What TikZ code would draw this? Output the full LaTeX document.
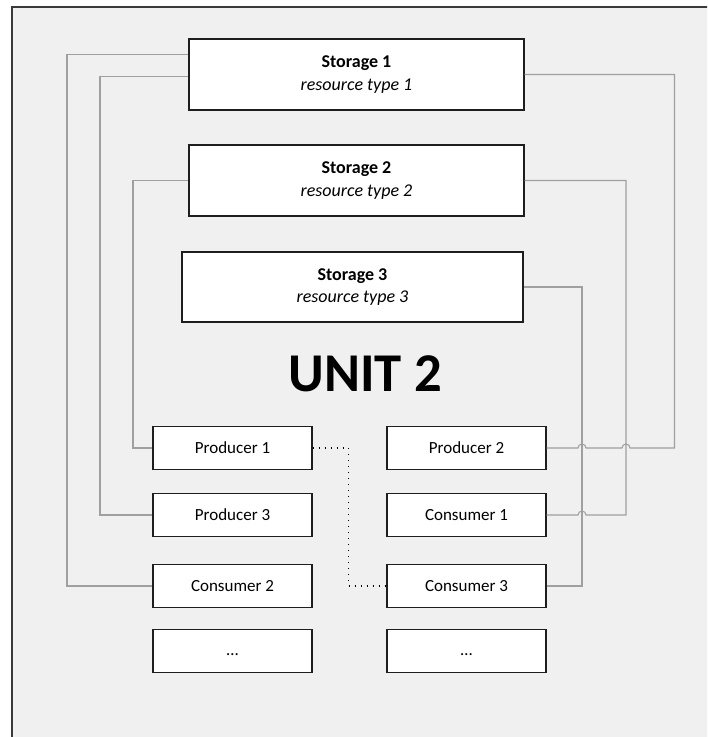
\documentclass[tikz,border=0pt]{standalone}
\usepackage{fontspec}
\setmainfont{Carlito}
\usetikzlibrary{calc}
\definecolor{bg}{HTML}{F0F0F0}
\definecolor{conn}{HTML}{A0A0A0}
\definecolor{frame}{HTML}{3A3A3A}
\definecolor{boxline}{HTML}{1E1E1E}
\tikzset{
  storebox/.style={draw=boxline, line width=0.9pt, fill=white, minimum height=53.25pt, align=center, inner sep=0pt, font=\fontsize{13.5}{17}\selectfont},
  unitbox/.style={draw=boxline, line width=0.9pt, fill=white, minimum width=119.25pt, minimum height=31.75pt, inner sep=0pt, font=\fontsize{12.75}{15}\selectfont},
  connline/.style={draw=conn, line width=0.8pt},
  dotline/.style={draw=black, line width=1pt, dash pattern=on 1pt off 3.5pt}
}
\begin{document}
\begin{tikzpicture}[x=0.75pt,y=-0.75pt]
\useasboundingbox (0,0) rectangle (707,737);
\clip (0,0) rectangle (707,737);
\draw[fill=bg, draw=frame, line width=0.9pt] (12,7) rectangle (730,760);

% storages
\node[storebox, minimum width=251.25pt] (s1) at (356.5,74.5) {\textbf{Storage 1}\\\textit{resource type 1}};
\node[storebox, minimum width=251.25pt] (s2) at (356.5,180.5) {\textbf{Storage 2}\\\textit{resource type 2}};
\node[storebox, minimum width=255.75pt, minimum height=52.5pt] (s3) at (352.5,287) {\textbf{Storage 3}\\\textit{resource type 3}};

\node[font=\fontsize{41}{49}\selectfont\bfseries, inner sep=0pt] (unit) at (365,374) {UNIT 2};

% units
\node[unitbox] (p1) at (232.5,448) {Producer 1};
\node[unitbox] (p3) at (232.5,515) {Producer 3};
\node[unitbox] (c2) at (232.5,586) {Consumer 2};
\node[unitbox] (l4) at (232.5,651) {\vphantom{Pp}…};
\node[unitbox] (p2) at (466.5,448) {Producer 2};
\node[unitbox] (c1) at (466.5,515) {Consumer 1};
\node[unitbox] (c3) at (466.5,586) {Consumer 3};
\node[unitbox] (r4) at (466.5,651) {\vphantom{Pp}…};

% columns
\coordinate (L1) at (67,0);
\coordinate (L2) at (100,0);
\coordinate (L3) at (133,0);
\coordinate (R1) at (582,0);
\coordinate (R2) at (626,0);
\coordinate (R3) at (674.5,0);
\coordinate (D) at (348.5,0);
\coordinate (s1a) at ($(s1.north west)+(0,16)$);
\coordinate (s1b) at ($(s1.north west)+(0,38)$);

% left connectors
\draw[connline] (s1a) -- (L1 |- s1a) -- (L1 |- c2.west) -- (c2.west);
\draw[connline] (s1b) -- (L2 |- s1b) -- (L2 |- p3.west) -- (p3.west);
\draw[connline] (s2.west) -- (L3 |- s2.west) -- (L3 |- p1.west) -- (p1.west);

% right connectors
\draw[connline] (s3.east) -- (R1 |- s3.east) -- (R1 |- c3.east) -- (c3.east);
\draw[connline] (s2.east) -- (R2 |- s2.east) -- (R2 |- c1.east)
  -- ($(R1 |- c1.east)+(4,0)$) arc[start angle=0,end angle=180,radius=3pt]
  -- (c1.east);
\draw[connline] (s1.east) -- (R3 |- s1.east) -- (R3 |- p2.east)
  -- ($(R2 |- p2.east)+(4,0)$) arc[start angle=0,end angle=180,radius=3pt]
  -- ($(R1 |- p2.east)+(4,0)$) arc[start angle=0,end angle=180,radius=3pt]
  -- (p2.east);

% dotted link
\draw[dotline] (p1.east) -- (D |- p1.east) -- (D |- c3.west) -- (c3.west);
\end{tikzpicture}
\end{document}
